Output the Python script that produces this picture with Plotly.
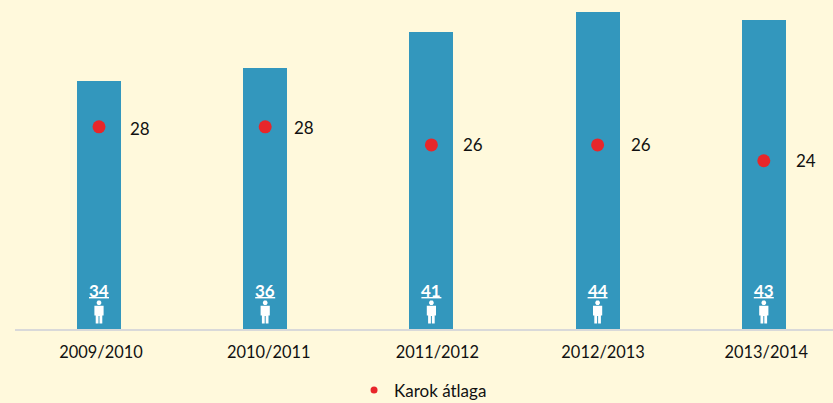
import plotly.graph_objects as go

seasons = ["2009/2010", "2010/2011", "2011/2012", "2012/2013", "2013/2014"]
bar_heights = [34.3, 36.1, 41.1, 43.9, 42.8]
bar_labels = ["34", "36", "41", "44", "43"]
avg_positions = [28.0, 28.0, 25.5, 25.5, 23.3]
avg_labels = ["28", "28", "26", "26", "24"]
legend_name = "Karok átlaga"

BG = "#FFF9DC"
BLUE = "#3397BD"
RED = "#E8262A"
FONT = "Lato"

idx = list(range(len(seasons)))
tick_shift_px = [2, 3.5, 6, 5.5, 2.5]
val_shift_px = [41, 39, 42, 43, 42]
val_yshift_px = [-2, -1, 0, 0, 0]
PX_PER_CAT = 166.2

fig = go.Figure()
fig.add_bar(x=idx, y=bar_heights, width=44 / PX_PER_CAT, marker=dict(color=BLUE, line_width=0),
            showlegend=False, hoverinfo="skip")
fig.add_scatter(x=idx, y=avg_positions, mode="markers", marker=dict(color=RED, size=13),
                showlegend=False, hoverinfo="skip")
fig.add_scatter(x=[None], y=[None], mode="markers", marker=dict(color=RED, size=7),
                name=legend_name, showlegend=True)

PERSON = ("M-1.2,28.5 L1.2,28.5 L2.3,27 L2.3,25.5 L1.2,24 L-1.2,24 L-2.3,25.5 L-2.3,27 Z "
          "M-4.6,23.2 L4.6,23.2 L4.6,13.5 L3.3,13.5 L3.3,5.5 L0.5,5.5 L0.5,13 L-0.5,13 L-0.5,5.5 "
          "L-3.3,5.5 L-3.3,13.5 L-4.6,13.5 Z")

for i in idx:
    fig.add_annotation(x=i, y=0, text=f"<b>{bar_labels[i]}</b>", showarrow=False,
                       yanchor="middle", yshift=39, font=dict(family=FONT, size=17, color="white"))
    fig.add_shape(type="path", xref="x", yref="y", xsizemode="pixel", ysizemode="pixel",
                  xanchor=i, yanchor=0, path="M-10,32 L10,32 L10,30.6 L-10,30.6 Z",
                  fillcolor="white", line_width=0)
    fig.add_shape(type="path", xref="x", yref="y", xsizemode="pixel", ysizemode="pixel",
                  xanchor=i, yanchor=0, path=PERSON, fillcolor="white", line_width=0)
    fig.add_annotation(x=i, y=avg_positions[i], text=avg_labels[i], showarrow=False,
                       xshift=val_shift_px[i], yshift=val_yshift_px[i],
                       font=dict(family=FONT, size=17, color="#111111"))

fig.update_layout(
    width=833, height=403, autosize=False,
    paper_bgcolor=BG, plot_bgcolor=BG,
    margin=dict(l=15, r=0, t=0, b=74, autoexpand=False),
    font=dict(family=FONT, size=16, color="#111111"),
    bargap=0,
    legend=dict(orientation="h", x=0.508, y=-0.187, xanchor="center", yanchor="middle",
                bgcolor="rgba(0,0,0,0)", font=dict(family=FONT, size=17, color="#111111"),
                itemwidth=30, indentation=-15),
    xaxis=dict(range=[-84 / PX_PER_CAT, 734 / PX_PER_CAT], tickmode="array",
               tickvals=[i + s / PX_PER_CAT for i, s in zip(idx, tick_shift_px)],
               ticktext=seasons, showgrid=False, zeroline=False, showline=True,
               linecolor="#D9D9D9", linewidth=2, ticks="", ticklabelstandoff=7,
               tickfont=dict(family=FONT, size=16.4, color="#111111")),
    yaxis=dict(range=[0, 329 / 7.22], visible=False),
)
fig.write_html("out.html", config={"displayModeBar": False},
               post_script="document.body.style.margin='0';document.body.style.background='%s';" % BG)
